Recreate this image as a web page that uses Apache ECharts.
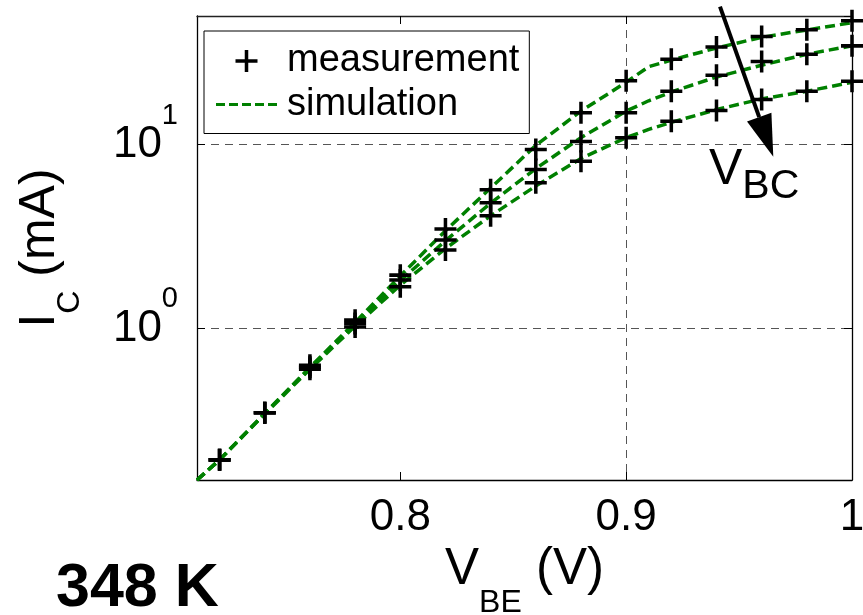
<!DOCTYPE html>
<html><head><meta charset="utf-8">
<script src="https://cdn.jsdelivr.net/npm/echarts@6/dist/echarts.min.js"></script>
<style>html,body{margin:0;padding:0;background:#fff}#c{width:863px;height:615px}</style>
</head><body><div id="c"></div>
<script>
// ---- data ----
const measX = [0.72, 0.74, 0.76, 0.78, 0.80, 0.82, 0.84, 0.86, 0.88, 0.90, 0.92, 0.94, 0.96, 0.98, 1.00];
const measHigh = [0.193, 0.348, 0.63, 1.11, 1.95, 3.47, 5.68, 9.39, 14.9, 22.2, 29.1, 33.9, 38.7, 42.1, 47.1];
const measMid  = [0.193, 0.348, 0.615, 1.065, 1.835, 3.03, 4.83, 7.31, 10.4, 14.9, 19.5, 23.8, 28.3, 31.0, 34.4];
const measLow  = [0.193, 0.348, 0.60, 1.02, 1.686, 2.67, 4.10, 6.2, 8.11, 10.9, 13.4, 15.3, 17.6, 19.5, 22.1];

const simX = [0.71, 0.72, 0.74, 0.76, 0.78, 0.80, 0.82, 0.84, 0.86, 0.88, 0.90, 0.91, 0.92, 0.94, 0.96, 0.98, 1.00];
const simHigh = [0.15, 0.193, 0.345, 0.615, 1.08, 1.93, 3.4, 5.8, 9.9, 15.2, 21.8, 26.5, 28.8, 33.5, 38.3, 42.0, 46.0];
const simMid  = [0.15, 0.193, 0.345, 0.61, 1.06, 1.82, 3.0, 4.8, 7.4, 10.9, 15.2, 17.3, 19.3, 23.3, 27.0, 31.0, 34.4];
const simLow  = [0.15, 0.193, 0.343, 0.60, 1.03, 1.72, 2.72, 4.1, 5.95, 8.4, 10.9, 12.1, 13.2, 15.5, 17.7, 19.5, 21.8];

const xTicks = [0.8, 0.9, 1.0];
const yTicks = [1, 10];

// ---- chart ----
const FONT = 'Liberation Sans, Arial, Helvetica, sans-serif';
const PLUS = 'path://M-1.6,-10H1.6V-1.6H10V1.6H1.6V10H-1.6V1.6H-10V-1.6H-1.6Z';
const DASH_ICON = 'path://M0,0h9v3h-9zM13,0h9v3h-9zM26,0h9v3h-9zM39,0h9v3h-9zM52,0h9v3h-9z';
const GREEN = '#008000';
const zip = (xs, ys) => xs.map((x, i) => [x, ys[i]]);

const simSeries = [simHigh, simMid, simLow].map(d => ({
  name: 'simulation', type: 'line', data: zip(simX, d), symbol: 'none',
  lineStyle: { color: GREEN, width: 3.5, type: [10, 5] }, itemStyle: { color: GREEN },
  z: 2, silent: true
}));
const measSeries = [measHigh, measMid, measLow].map(d => ({
  name: 'measurement', type: 'scatter', data: zip(measX, d), symbol: PLUS,
  symbolSize: 22, itemStyle: { color: '#000', opacity: 1 }, z: 3, silent: true
}));

const chart = echarts.init(document.getElementById('c'));
chart.setOption({
  animation: false,
  backgroundColor: '#fff',
  grid: { left: 197, right: 11, top: 16, bottom: 135, containLabel: false, outerBoundsMode: 'none' },
  legend: {
    orient: 'vertical', left: 204, top: 31,
    padding: [11, 10, 10, 12], itemGap: 5.5, itemWidth: 61, itemHeight: 22,
    backgroundColor: '#fff', borderColor: '#000', borderWidth: 1, borderRadius: 0,
    textStyle: { fontSize: 38, fontFamily: FONT, color: '#000', padding: [0, 0, 0, 5] },
    selectedMode: false, symbolKeepAspect: true,
    data: [{ name: 'measurement', icon: PLUS, itemStyle: { color: '#000', opacity: 1 } },
           { name: 'simulation', icon: DASH_ICON, itemStyle: { color: GREEN, opacity: 1 } }]
  },
  xAxis: [{
    type: 'value', min: 0.71, max: 1.0, position: 'bottom',
    axisLine: { show: true, onZero: false, lineStyle: { color: '#000', width: 1.3 } },
    axisTick: { show: true, inside: true, length: 8, customValues: xTicks, lineStyle: { color: '#000' } },
    axisLabel: { customValues: xTicks, fontSize: 44, fontFamily: FONT, color: '#000', margin: 16,
      formatter: v => String(+(+v).toFixed(2)) },
    splitLine: { show: true, showMinLine: false, showMaxLine: false, lineStyle: { color: '#555', type: [8, 6], width: 1 } },
    name: '{m|V}{s|BE}{m| (V)}', nameLocation: 'middle', nameGap: 59,
    nameTextStyle: { fontFamily: FONT, color: '#000',
      rich: { m: { fontSize: 51, fontFamily: FONT, verticalAlign: 'top' },
              s: { fontSize: 32, fontFamily: FONT, verticalAlign: 'top', padding: [42, 0, 0, 0] } } }
  }, {
    type: 'value', min: 0.71, max: 1.0, position: 'top',
    axisLine: { show: true, onZero: false, lineStyle: { color: '#222', width: 1.3 } },
    axisTick: { show: true, inside: true, length: 8, customValues: xTicks, lineStyle: { color: '#000' } },
    axisLabel: { show: false }, splitLine: { show: false }
  }],
  yAxis: [{
    type: 'log', logBase: 10, min: 0.15, max: 50, position: 'left',
    axisLine: { show: true, onZero: false, lineStyle: { color: '#000', width: 1.3 } },
    axisTick: { show: true, inside: true, length: 8, lineStyle: { color: '#000' } },
    axisLabel: {
      showMinLabel: false, showMaxLabel: false, margin: 19, color: '#000', fontFamily: FONT,
      formatter: v => {
        for (const t of yTicks) if (Math.abs(v - t) < 1e-6 * t) return '{b|10}{s|' + Math.round(Math.log10(t)) + '}';
        return '';
      },
      rich: { b: { fontSize: 44, fontFamily: FONT, color: '#000', verticalAlign: 'middle' },
              s: { fontSize: 29, fontFamily: FONT, color: '#000', verticalAlign: 'top', padding: [0, 0, 58, 0] } }
    },
    splitLine: { show: true, showMinLine: false, showMaxLine: false, lineStyle: { color: '#555', type: [8, 6], width: 1 } },
    name: '{m|I}{s|C}{m| (mA)}', nameLocation: 'middle', nameGap: 111,
    nameTextStyle: { fontFamily: FONT, color: '#000',
      rich: { m: { fontSize: 50, fontFamily: FONT, verticalAlign: 'top' },
              s: { fontSize: 32, fontFamily: FONT, verticalAlign: 'top', padding: [39, 0, 0, 0] } } }
  }, {
    type: 'log', logBase: 10, min: 0.15, max: 50, position: 'right',
    axisLine: { show: true, onZero: false, lineStyle: { color: '#000', width: 1.3 } },
    axisTick: { show: true, inside: true, length: 8, lineStyle: { color: '#000' } },
    axisLabel: { show: false }, splitLine: { show: false }
  }],
  series: [...simSeries, ...measSeries],
  graphic: [
    { type: 'line', shape: { x1: 720, y1: 6.7, x2: 759.2, y2: 117.1 }, style: { stroke: '#000', lineWidth: 4 }, z: 10 },
    { type: 'polygon', shape: { points: [[773.3, 156.7], [771.4, 112.7], [747, 121.5]] }, style: { fill: '#000' }, z: 10 },
    { type: 'text', x: 709, y: 145, z: 10,
      style: { text: '{m|V}{s|BC}', verticalAlign: 'top', fill: '#000', font: '50px ' + FONT,
        rich: { m: { fontSize: 50, fontFamily: FONT, verticalAlign: 'top' },
                s: { fontSize: 41, fontFamily: FONT, verticalAlign: 'top', padding: [21, 0, 0, 0] } } } },
    { type: 'text', x: 56, y: 559, z: 10,
      style: { text: '348 K', fill: '#000', font: 'bold 61px ' + FONT, verticalAlign: 'top' } }
  ]
});
</script>
</body></html>
